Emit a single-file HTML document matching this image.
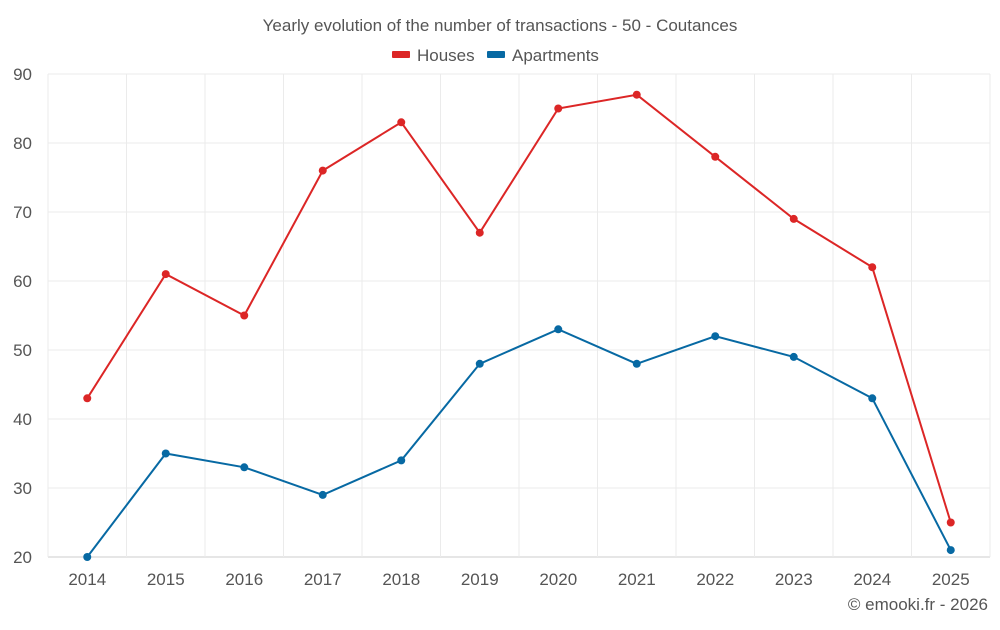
<!DOCTYPE html>
<html><head><meta charset="utf-8"><style>
body{margin:0;background:#fff;font-family:"Liberation Sans",sans-serif;}
svg text{font-family:"Liberation Sans",sans-serif;}
</style></head><body>
<svg id="chart" width="1000" height="625">
<text x="500" y="31" text-anchor="middle" font-size="17" fill="#555">Yearly evolution of the number of transactions - 50 - Coutances</text>
<g>
<g><rect x="392" y="51" width="18" height="7" rx="1" fill="#dc2626"/><text x="417" y="61" font-size="17" fill="#555">Houses</text></g>
<g><rect x="487" y="51" width="18" height="7" rx="1" fill="#0769a3"/><text x="512" y="61" font-size="17" fill="#555">Apartments</text></g>
</g>
<g id="grid"></g><g id="axes"></g><g id="series"></g>
<text x="988" y="610" text-anchor="end" font-size="17" fill="#555">© emooki.fr - 2026</text>
</svg>
<script>
const categories=["2014","2015","2016","2017","2018","2019","2020","2021","2022","2023","2024","2025"];
const houses=[43,61,55,76,83,67,85,87,78,69,62,25];
const apartments=[20,35,33,29,34,48,53,48,52,49,43,21];
const yTicks=[20,30,40,50,60,70,80,90];
const L=48,R=990,T=74,B=557,yMin=20,yMax=90;
const bw=(R-L)/categories.length;
const xs=i=>L+bw*(i+0.5);
const ys=v=>B-(v-yMin)/(yMax-yMin)*(B-T);
const NS="http://www.w3.org/2000/svg";
function mk(tag,attrs,parent){const e=document.createElementNS(NS,tag);for(const k in attrs)e.setAttribute(k,attrs[k]);parent.appendChild(e);return e;}
const grid=document.getElementById('grid'),axes=document.getElementById('axes'),ser=document.getElementById('series');
yTicks.forEach(t=>{
 const l=mk('line',{x1:L,x2:R,y1:ys(t),y2:ys(t),stroke:t===yMin?'#ccc':'#ebebeb'},grid);
 
 
 const tx=mk('text',{x:L-16,y:ys(t)+6,'text-anchor':'end','font-size':17,fill:'#555'},axes);
 tx.textContent=t;
 
 
});
for(let i=0;i<=categories.length;i++){
 const x=L+bw*i;
 const l=mk('line',{x1:x,x2:x,y1:T,y2:B,stroke:'#ebebeb'},grid);
 
 
}
categories.forEach((c,i)=>{
 const tx=mk('text',{x:xs(i),y:585,'text-anchor':'middle','font-size':17,fill:'#555'},axes);
 tx.textContent=c;
 
 
});
function draw(vals,color,name){
 const g=mk('g',{},ser);
 
 
 const p=mk('polyline',{points:vals.map((v,i)=>xs(i)+','+ys(v)).join(' '),fill:'none',stroke:color,'stroke-width':2},g);
 
 
 vals.forEach((v,i)=>{
  const c=mk('circle',{cx:xs(i),cy:ys(v),r:4,fill:color},g);
  
  
 });
}
draw(houses,'#dc2626','houses');
draw(apartments,'#0769a3','apartments');
</script>
</body></html>
